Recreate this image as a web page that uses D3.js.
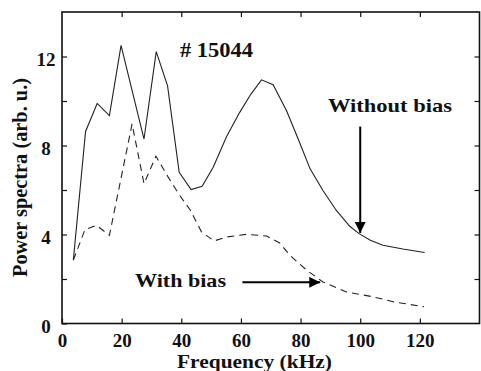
<!DOCTYPE html>
<html>
<head>
<meta charset="utf-8">
<script src="https://cdn.jsdelivr.net/npm/d3@7"></script>
<style>
  body { margin: 0; background: #fff; }
  svg { display: block; }
  text { font-family: "Liberation Serif", "Times New Roman", serif; font-weight: bold; fill: #111; }
</style>
</head>
<body>
<div class="chart"></div>
<script>
// frequency (kHz) and power spectra
var freqNoBias = [3.8, 7.9, 11.8, 15.9, 19.8, 27.5, 31.6, 35.4, 39.3, 43.3, 47, 50.7, 55.2, 59.6, 63.3, 66.9, 70.8, 75.3, 79.2, 83.2, 87.5, 92, 96.5, 99.6, 103.4, 107.6, 114.3, 121.6];
var powerNoBias = [2.85, 8.63, 9.89, 9.34, 12.5, 8.29, 12.22, 10.68, 6.8, 6.02, 6.17, 7.02, 8.4, 9.49, 10.3, 10.95, 10.73, 9.56, 8.29, 6.95, 5.98, 5.08, 4.37, 4.04, 3.74, 3.52, 3.35, 3.19];

var freqBias = [3.8, 7.7, 11.6, 15.9, 23.5, 27.5, 31.5, 35.5, 39.5, 43, 46.8, 51, 55.2, 61.9, 68.6, 73, 76.4, 82, 87.5, 95.4, 104.3, 111, 121.4];
var powerBias = [2.85, 4.22, 4.41, 3.96, 8.97, 6.28, 7.52, 6.6, 5.75, 5.1, 4.11, 3.71, 3.89, 4.01, 3.93, 3.62, 3.07, 2.4, 1.87, 1.42, 1.2, 0.98, 0.75];

var xTicks = [0, 20, 40, 60, 80, 100, 120];
var yTicks = [0, 2, 4, 6, 8, 10, 12];
var yLabels = [0, 4, 8, 12];

// annotation arrows: [x1, y1, x2, y2] in data units
var arrowNoBias = [100, 8.85, 100, 4.07];
var arrowBias = [60.5, 1.85, 86.6, 1.85];

var W = 481, H = 371;
var padL = 62, padR = 479.5, padT = 12, padB = 323.5;

var svg = d3.select(".chart").append("svg")
    .attr("width", W)
    .attr("height", H);

svg.append("rect").attr("width", W).attr("height", H).style("fill", "#fff");

var x = d3.scaleLinear().domain([0, 140]).range([padL, padR]);
var y = d3.scaleLinear().domain([0, 14]).range([padB, padT]);

// ticks pointing inward on all four sides
var axes = [
  svg.append("g").attr("transform", "translate(0," + padB + ")")
     .call(d3.axisBottom(x).tickValues(xTicks).tickSize(-5).tickPadding(10)),
  svg.append("g").attr("transform", "translate(0," + padT + ")")
     .call(d3.axisTop(x).tickValues(xTicks.slice(1)).tickSize(-5).tickFormat("")),
  svg.append("g").attr("transform", "translate(" + padL + ",0)")
     .call(d3.axisLeft(y).tickValues(yTicks).tickSize(-5)
       .tickFormat(function(d) { return yLabels.indexOf(d) >= 0 ? d : ""; })),
  svg.append("g").attr("transform", "translate(" + padR + ",0)")
     .call(d3.axisRight(y).tickValues(yTicks.slice(1)).tickSize(-5).tickFormat(""))
];
axes.forEach(function(g) {
  g.select(".domain").remove();
  g.selectAll("line").attr("stroke", "#111").attr("stroke-width", 1.2);
  g.selectAll("text").style("font-size", "19px").attr("font-family", null).attr("fill", "#111");
});
axes[2].selectAll("text")
    .attr("text-anchor", "middle")
    .attr("x", 46 - padL)
    .attr("dy", null)
    .attr("y", 9);

svg.append("rect")
    .attr("x", padL).attr("y", padT)
    .attr("width", padR - padL).attr("height", padB - padT)
    .style("fill", "none").style("stroke", "#111").style("stroke-width", 1.6);

var line = d3.line()
    .x(function(d) { return x(d[0]); })
    .y(function(d) { return y(d[1]); });

svg.append("path")
    .datum(d3.zip(freqNoBias, powerNoBias))
    .attr("d", line)
    .style("fill", "none").style("stroke", "#222").style("stroke-width", 1.1);

svg.append("path")
    .datum(d3.zip(freqBias, powerBias))
    .attr("d", line)
    .style("fill", "none").style("stroke", "#222").style("stroke-width", 1.1)
    .style("stroke-dasharray", "7,5");

// arrows
svg.append("defs").append("marker")
    .attr("id", "head")
    .attr("viewBox", "0 0 10 10")
    .attr("refX", 10).attr("refY", 5)
    .attr("markerWidth", 5.5).attr("markerHeight", 5.5)
    .attr("markerUnits", "strokeWidth")
    .attr("orient", "auto")
  .append("path")
    .attr("d", "M0,0L10,5L0,10Z")
    .style("fill", "#000");

[arrowNoBias, arrowBias].forEach(function(a) {
  svg.append("line")
      .attr("x1", x(a[0])).attr("y1", y(a[1]))
      .attr("x2", x(a[2])).attr("y2", y(a[3]))
      .style("stroke", "#000").style("stroke-width", 2)
      .attr("marker-end", "url(#head)");
});

// labels
svg.append("text")
    .attr("x", 180).attr("y", 57)
    .attr("textLength", 73).attr("lengthAdjust", "spacingAndGlyphs")
    .style("font-size", "20px")
    .text("# 15044");

svg.append("text")
    .attr("x", 328).attr("y", 111.5)
    .attr("textLength", 124).attr("lengthAdjust", "spacingAndGlyphs")
    .style("font-size", "19px")
    .text("Without bias");

svg.append("text")
    .attr("x", 135).attr("y", 286.5)
    .attr("textLength", 91).attr("lengthAdjust", "spacingAndGlyphs")
    .style("font-size", "19px")
    .text("With bias");

svg.append("text")
    .attr("x", 177).attr("y", 367.5)
    .attr("textLength", 155).attr("lengthAdjust", "spacingAndGlyphs")
    .style("font-size", "19px")
    .text("Frequency (kHz)");

svg.append("text")
    .attr("transform", "translate(27,177.5) rotate(-90)")
    .attr("text-anchor", "middle")
    .attr("textLength", 199).attr("lengthAdjust", "spacingAndGlyphs")
    .style("font-size", "20px")
    .text("Power spectra (arb. u.)");
</script>
</body>
</html>
